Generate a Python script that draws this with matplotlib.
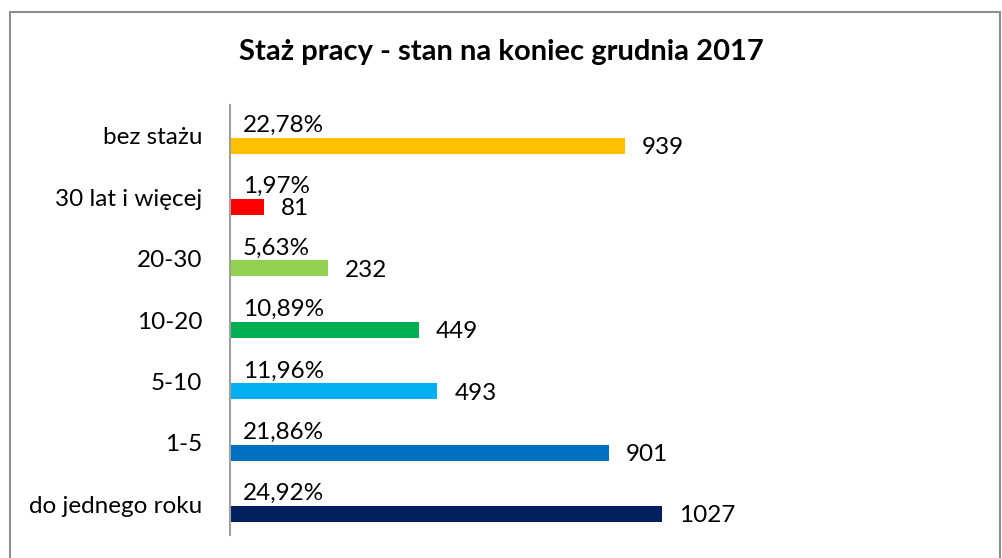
import numpy as np
import matplotlib
matplotlib.use('Agg')
import matplotlib.pyplot as plt
from matplotlib.patches import Rectangle

plt.rcParams['font.family'] = ['Lato', 'DejaVu Sans']

## data (bottom to top, as drawn)
categories = ['do jednego roku', '1-5', '5-10', '10-20', '20-30', '30 lat i więcej', 'bez stażu']
counts = [1027, 901, 493, 449, 232, 81, 939]
percents = ['24,92%', '21,86%', '11,96%', '10,89%', '5,63%', '1,97%', '22,78%']
colors = ['#002060', '#0070C0', '#00B0F0', '#00B050', '#92D050', '#FF0000', '#FFC000']

W, H = 1002, 558
fig = plt.figure(figsize=(W/100, H/100), dpi=100)

# chart border like in the spreadsheet export (bottom edge cut off)
fig.patches.append(Rectangle((10/W, -0.05), (1000-10)/W, (558-12)/H + 0.05,
                             transform=fig.transFigure, fill=False,
                             edgecolor='#8c8c8c', linewidth=1.5))

ax = fig.add_axes([230/W, 1 - 535/H, 505/W, 430/H])
y = np.arange(len(categories))
off = -0.16  # bars sit slightly below the category centre
ax.barh(y + off, counts, height=0.26, color=colors)

fs = 17.5
ax.set_xlim(0, 1200)
ax.set_ylim(-0.5, len(categories) - 0.5)
ax.set_yticks(y)
ax.set_yticklabels(categories, fontsize=fs)
ax.tick_params(axis='y', length=0, pad=20)
ax.set_xticks([])
for s in ['top', 'right', 'bottom']:
    ax.spines[s].set_visible(False)
ax.spines['left'].set_color('#a0a0a0')
ax.spines['left'].set_linewidth(1.5)

for yi, c, p in zip(y, counts, percents):
    ax.text(30, yi + off + 0.16, p, ha='left', va='bottom', fontsize=fs)
    ax.text(c + 40, yi + off - 0.03, str(c), ha='left', va='center', fontsize=fs)

fig.text(0.5, 1 - 52/H, 'Staż pracy - stan na koniec grudnia 2017',
         ha='center', va='center', fontsize=21, fontweight='bold')

fig.savefig('out.png', dpi=100)
